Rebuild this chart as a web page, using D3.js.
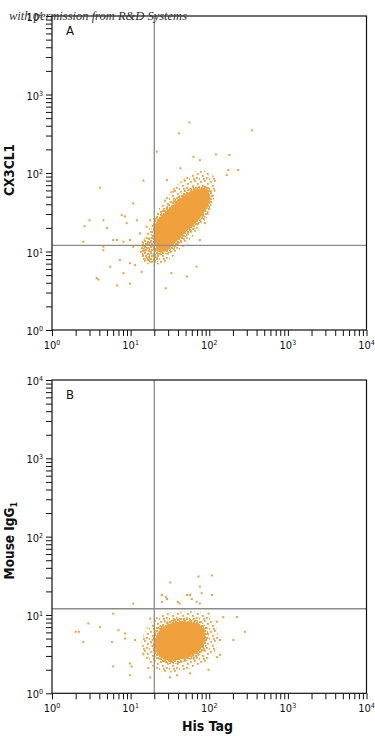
<!DOCTYPE html>
<html><head><meta charset="utf-8">
<script src="https://cdn.jsdelivr.net/npm/d3@7"></script>
<style>
body{margin:0;background:#fff}
text{font-family:"Liberation Sans Narrow","DejaVu Sans Condensed","Roboto Condensed",sans-serif;fill:#111}
</style>
</head><body>
<svg id="chart" width="375" height="736"></svg>
<script>
// ---------- data ----------
const decades = [1, 10, 100, 1000, 10000];
const decadeExponents = ["0", "1", "2", "3", "4"];
const xTitle = "His Tag";
const panelNames = ["A", "B"];
const yTitleA = "CX3CL1";
const yTitleB = "Mouse IgG";
const yTitleBSub = "1";
const watermark = "with permission from R&D Systems";

const xGate = 20;        // vertical quadrant line (His Tag)
const yGateA = 12;       // horizontal quadrant line panel A
const yGateB = 12;       // horizontal quadrant line panel B

// Panel A: dense core outline, speckled halo outline, lower-left lobe, sparse events [HisTag, CX3CL1]
const coreA = [[21,23],[27,31],[37,41],[49,52],[66,61],[94,62],[99,52],[94,37],[76,27],[57,20],[40,14],[34,12],[29,10.4],[22,10],[21,11.4]];
const haloA = [[15,15],[18,22],[24,39],[34,61],[49,86],[76,109],[109,94],[122,82],[115,48],[97,29],[72,19],[51,12],[37,9],[27,7.3],[18,6.7],[13,8.3]];
const lobeA = [[14.4,14],[20.4,14.9],[24,9.9],[22,7.4],[16.7,7.4],[13.6,9.9]];
const eventsA = [[56,440],[41,320],[350,350],[21.5,187],[122,173],[180,170],[63,161],[76,146],[14.5,80],[4.1,65],
  [234,109],[167,94],[43,115],[29,81],[35,58],[10.8,41],[8.5,28],[5,20],[6.7,14],[4.5,11.5],
  [3.7,4.6],[6.7,3.7],[28,3.4],[69,6.4],[76,14],[88,23],[9.8,7.1],[8.1,5.3],[52,4.8],[33,5.3],
  [12,25],[5.5,6.4],[175,109],[2.6,21],[3,25],[4.5,25],[2.5,13.3],[7.7,29],[8.9,23],[4.5,10.4],
  [7.3,7.8],[3.9,4.4],[9.8,3.9],[13.8,5.5],[11.4,6.7],[6,14],[8.1,13.3],[9.8,14],[13.2,17],[10.8,11.5],
  [17.7,25],[16,20.7]];

// Panel B: [HisTag, Mouse IgG1]
const coreB = [[21,5.2],[26,7],[39,8.1],[57,8.1],[76,7.4],[88,5.8],[83,4.1],[70,3.3],[46,2.8],[32,2.6],[24,2.9],[21,3.5]];
const haloB = [[14,4.8],[17,7.4],[24,10],[42,11],[76,10.8],[109,8.6],[129,5.5],[119,3.5],[88,2.5],[49,2],[27,1.85],[18,2.3],[14,3.3]];
const eventsB = [[32,26],[73,31],[76,23],[28,17],[57,18],[40,14.7],[69,14.7],[108,18],[80,19],[25,14.7],
  [10.8,14],[6,10.4],[2.9,7.8],[4.1,7],[2,6.1],[2.2,6.1],[2.5,4.5],[5.8,4.5],[8.5,5],[7,6.4],
  [17.7,9],[6,2.2],[10.3,2.2],[9.8,1.7],[17.7,1.6],[31.7,1.6],[57,1.8],[137,3.1],[203,4.8],[285,6.1],
  [151,9.4],[224,9.4],[108,32],[25,18],[29,16],[52,18],[60,16],[42,14],[76,14],[8.5,5.8],
  [11.4,4.8],[14.5,3.2],[16.8,2.1],[9.8,2.4],[39,1.7],[98,2],[125,2.9],[137,4.8],[125,8.2],[98,10.4]];

// ---------- drawing ----------
const svg = d3.select("#chart");
const orange = "#F0A03C";
const gateColor = "#8c8c8c";

// speckle patterns for lower-density regions
const defs = svg.append("defs");
const sparse = defs.append("pattern").attr("id","sparse").attr("patternUnits","userSpaceOnUse").attr("width",10).attr("height",10);
[[0,1],[4,0],[7,3],[2,5],[6,7],[9,8],[3,8]].forEach(p=>sparse.append("rect").attr("x",p[0]).attr("y",p[1]).attr("width",1.8).attr("height",1.8).attr("fill",orange));
const medium = defs.append("pattern").attr("id","medium").attr("patternUnits","userSpaceOnUse").attr("width",6).attr("height",6);
[[0,0],[3,1],[1,3],[4,4],[5,2]].forEach(p=>medium.append("rect").attr("x",p[0]).attr("y",p[1]).attr("width",2).attr("height",2).attr("fill",orange));

const x = d3.scaleLog().domain([1,10000]).range([52,366.5]);

function panel(yRange, name, core, halo, lobe, events, yGate, titleFn) {
  const y = d3.scaleLog().domain([1,10000]).range(yRange);
  const g = svg.append("g");
  const line = d3.line().x(d=>x(d[0])).y(d=>y(d[1])).curve(d3.curveCatmullRomClosed.alpha(0.5));

  g.append("path").attr("d", line(halo)).attr("fill","url(#sparse)");
  if (lobe) g.append("path").attr("d", line(lobe)).attr("fill","url(#medium)");
  g.append("path").attr("d", line(core)).attr("fill",orange)
    .attr("stroke","url(#medium)").attr("stroke-width",7).attr("stroke-linejoin","round");
  g.append("path").attr("d", line(core)).attr("fill",orange);

  g.selectAll("rect.ev").data(events).join("rect").attr("class","ev")
    .attr("x",d=>x(d[0])-1).attr("y",d=>y(d[1])-1).attr("width",2).attr("height",2).attr("fill",orange);

  // quadrant lines
  g.append("line").attr("x1",x(xGate)).attr("x2",x(xGate)).attr("y1",y(1)).attr("y2",y(10000))
    .attr("stroke",gateColor).attr("stroke-width",1.3);
  g.append("line").attr("x1",x(1)).attr("x2",x(10000)).attr("y1",y(yGate)).attr("y2",y(yGate))
    .attr("stroke",gateColor).attr("stroke-width",1.3);

  // frame
  g.append("rect").attr("x",x(1)).attr("y",y(10000)).attr("width",x(10000)-x(1)).attr("height",y(1)-y(10000))
    .attr("fill","none").attr("stroke","#111").attr("stroke-width",1.2);

  // axes: ticks only
  const xa = g.append("g").attr("transform",`translate(0,${y(1)})`)
    .call(d3.axisBottom(x).tickValues(x.ticks()).tickSize(6).tickSizeOuter(0).tickFormat(""));
  const ya = g.append("g").attr("transform",`translate(${x(1)},0)`)
    .call(d3.axisLeft(y).tickValues(y.ticks()).tickSize(6).tickSizeOuter(0).tickFormat(""));
  [xa,ya].forEach(a=>{a.select(".domain").remove(); a.selectAll("line").attr("stroke","#111").attr("stroke-width",1);});

  // tick labels with superscripts
  decades.forEach((v,i)=>{
    const t = g.append("text").attr("x",x(v)).attr("y",y(1)+19).attr("text-anchor","middle").attr("font-size",11);
    t.append("tspan").text("10");
    t.append("tspan").attr("dy",-4).attr("font-size",7).text(decadeExponents[i]);
    const u = g.append("text").attr("x",x(1)-9).attr("y",y(v)+5).attr("text-anchor","end").attr("font-size",11);
    u.append("tspan").text("10");
    u.append("tspan").attr("dy",-4).attr("font-size",7).text(decadeExponents[i]);
  });

  g.append("text").attr("x",x(1)+14).attr("y",y(10000)+19).attr("font-size",13).text(name);
  titleFn(g, (yRange[0]+yRange[1])/2);
  return y;
}

panel([330,16], panelNames[0], coreA, haloA, lobeA, eventsA, yGateA, (g,cy)=>{
  g.append("text").attr("transform",`translate(14,${cy-3}) rotate(-90)`).attr("text-anchor","middle")
    .attr("font-size",13.5).attr("font-weight","bold").text(yTitleA);
});
panel([693.3,380], panelNames[1], coreB, haloB, null, eventsB, yGateB, (g,cy)=>{
  const t = g.append("text").attr("transform",`translate(14,${cy+4}) rotate(-90)`).attr("text-anchor","middle")
    .attr("font-size",13.5).attr("font-weight","bold");
  t.append("tspan").text(yTitleB);
  t.append("tspan").attr("dy",3).attr("font-size",9).text(yTitleBSub);
});

svg.append("text").attr("x",x(Math.sqrt(10)*30)).attr("y",731).attr("text-anchor","middle")
  .attr("font-size",14).attr("font-weight","bold").text(xTitle);

svg.append("text").attr("x",9).attr("y",20).attr("font-size",12.5).attr("font-style","italic")
  .style("font-family","'Liberation Serif','DejaVu Serif',serif").style("fill","#333").text(watermark);
</script>
</body></html>
